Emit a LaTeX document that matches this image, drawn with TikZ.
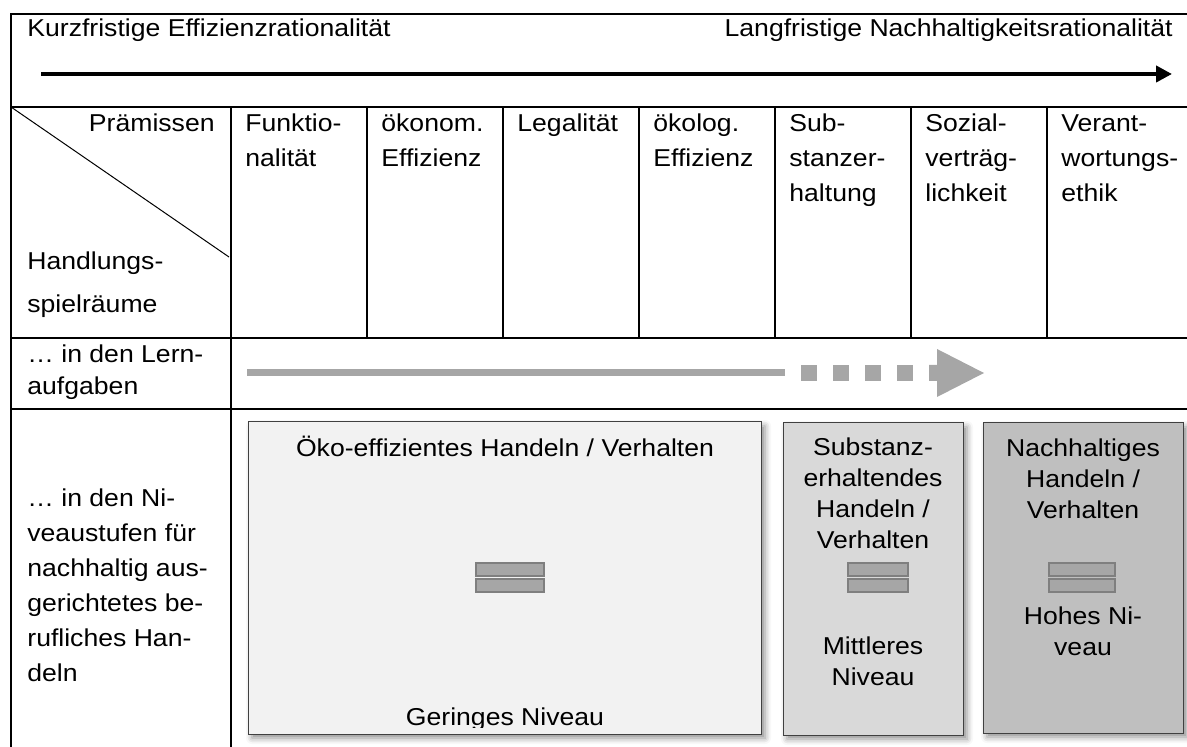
\documentclass[tikz,border=0pt]{standalone}
\usepackage{fontspec}
\setmainfont{Liberation Sans}[FakeStretch=1.09]
\usepackage{tikz}
\usetikzlibrary{arrows.meta,shadows.blur}

\definecolor{boxline}{HTML}{404040}
\definecolor{fillA}{HTML}{F2F2F2}
\definecolor{fillB}{HTML}{D9D9D9}
\definecolor{fillC}{HTML}{BFBFBF}
\definecolor{arrowgray}{HTML}{A6A6A6}
\definecolor{bargray}{HTML}{7F7F7F}

\begin{document}
\begin{tikzpicture}[x=0.5pt,y=-0.5pt,
        rule/.style={line width=1pt},
        celltext/.style={inner sep=0pt, anchor=base west, align=left, font=\fontsize{12.2}{17.5}\selectfont},
        boxtext/.style={inner sep=0pt, anchor=base, align=center, font=\fontsize{12.2}{15.5}\selectfont},
        level/.style={draw=boxline, line width=0.5pt, inner sep=0pt,
            blur shadow={shadow xshift=2pt, shadow yshift=-2pt, shadow blur radius=3pt, shadow opacity=45}},
        eqbar/.style={fill=arrowgray, draw=bargray, line width=0.75pt}]
    \useasboundingbox (0,0) rectangle (1187,747);

    % table lines
    \draw[rule] (1187,14) -- (11,14) -- (11,747);
    \foreach \y in {107,338,409}
        \draw[rule] (11,\y) -- (1187,\y);
    \draw[rule] (231,107) -- (231,747);
    \foreach \x in {367,503,639,775,911,1047}
        \draw[rule] (\x,107) -- (\x,338);
    \draw[line width=0.5pt] (11,107) -- (229,257);

    % top arrow
    \node[celltext] (kurz) at (27,37) {Kurzfristige Effizienzrationalität};
    \node[celltext, anchor=base east] (lang) at (1173,37) {Langfristige Nachhaltigkeitsrationalität};
    \coordinate (pfeilA) at (41,74);
    \coordinate (pfeilB) at (1172,74);
    \draw[line width=2pt, -{Triangle[length=8pt,width=8pt]}] (pfeilA) -- (pfeilB);

    % header (base = last line)
    \node[celltext, anchor=base east] (praem) at (215,132) {Prämissen};
    \node[celltext, font=\fontsize{12.2}{21.5}\selectfont] (handl) at (27,313) {Handlungs-\\spielräume};
    \node[celltext] (funk) at (245,167) {Funktio-\\nalität};
    \node[celltext] (oekon) at (381,167) {ökonom.\\Effizienz};
    \node[celltext] (legal) at (517,132) {Legalität};
    \node[celltext] (oekol) at (653,167) {ökolog.\\Effizienz};
    \node[celltext] (subhalt) at (789,202) {Sub-\\stanzer-\\haltung};
    \node[celltext] (sozial) at (925,202) {Sozial-\\verträg-\\lichkeit};
    \node[celltext] (ethik) at (1061,202) {Verant-\\wortungs-\\ethik};

    % Lernaufgaben
    \node[celltext, font=\fontsize{12.2}{16}\selectfont] (lern) at (27,395) {… in den Lern-\\aufgaben};
    \coordinate (lernA) at (247,373);
    \coordinate (lernB) at (785,373);
    \draw[arrowgray, line width=3.5pt] (lernA) -- (lernB);
    \foreach \x in {801,833,865,897}
        \fill[arrowgray] (\x,365) rectangle ++(16,16);
    \fill[arrowgray] (929,365) -- (937,365) -- (937,349) -- (984,373) -- (937,397) -- (937,381) -- (929,381) -- cycle;

    % Niveaustufen
    \node[celltext] (stufen) at (27,681)
        {… in den Ni-\\veaustufen für\\nachhaltig aus-\\gerichtetes be-\\rufliches Han-\\deln};

    \node[level, fill=fillA, minimum width=256.5pt, minimum height=156pt] (oeko) at (504.5,578) {};
    \node[level, fill=fillB, minimum width=90pt, minimum height=156pt] (subst) at (873,579) {};
    \node[level, fill=fillC, minimum width=100pt, minimum height=155pt] (nachh) at (1083,578) {};

    \foreach \c/\w in {510/68,878/60,1082/66} {
        \draw[eqbar] (\c-\w/2,563) rectangle (\c+\w/2,576);
        \draw[eqbar] (\c-\w/2,579) rectangle (\c+\w/2,592);
    }

    \node[boxtext] (oekoT) at (505,457) {Öko-effizientes Handeln / Verhalten};
    \begin{scope}
        \clip (248,422) rectangle (761,727);
        \node[boxtext] (gering) at (505,725) {Geringes Niveau};
    \end{scope}
    \node[boxtext] (substT) at (873,549) {Substanz-\\erhaltendes\\Handeln /\\Verhalten};
    \node[boxtext] (substN) at (873,685) {Mittleres\\Niveau};
    \node[boxtext] (nachhT) at (1083,519) {Nachhaltiges\\Handeln /\\Verhalten};
    \node[boxtext] (nachhN) at (1083,655) {Hohes Ni-\\veau};
\end{tikzpicture}
\end{document}
